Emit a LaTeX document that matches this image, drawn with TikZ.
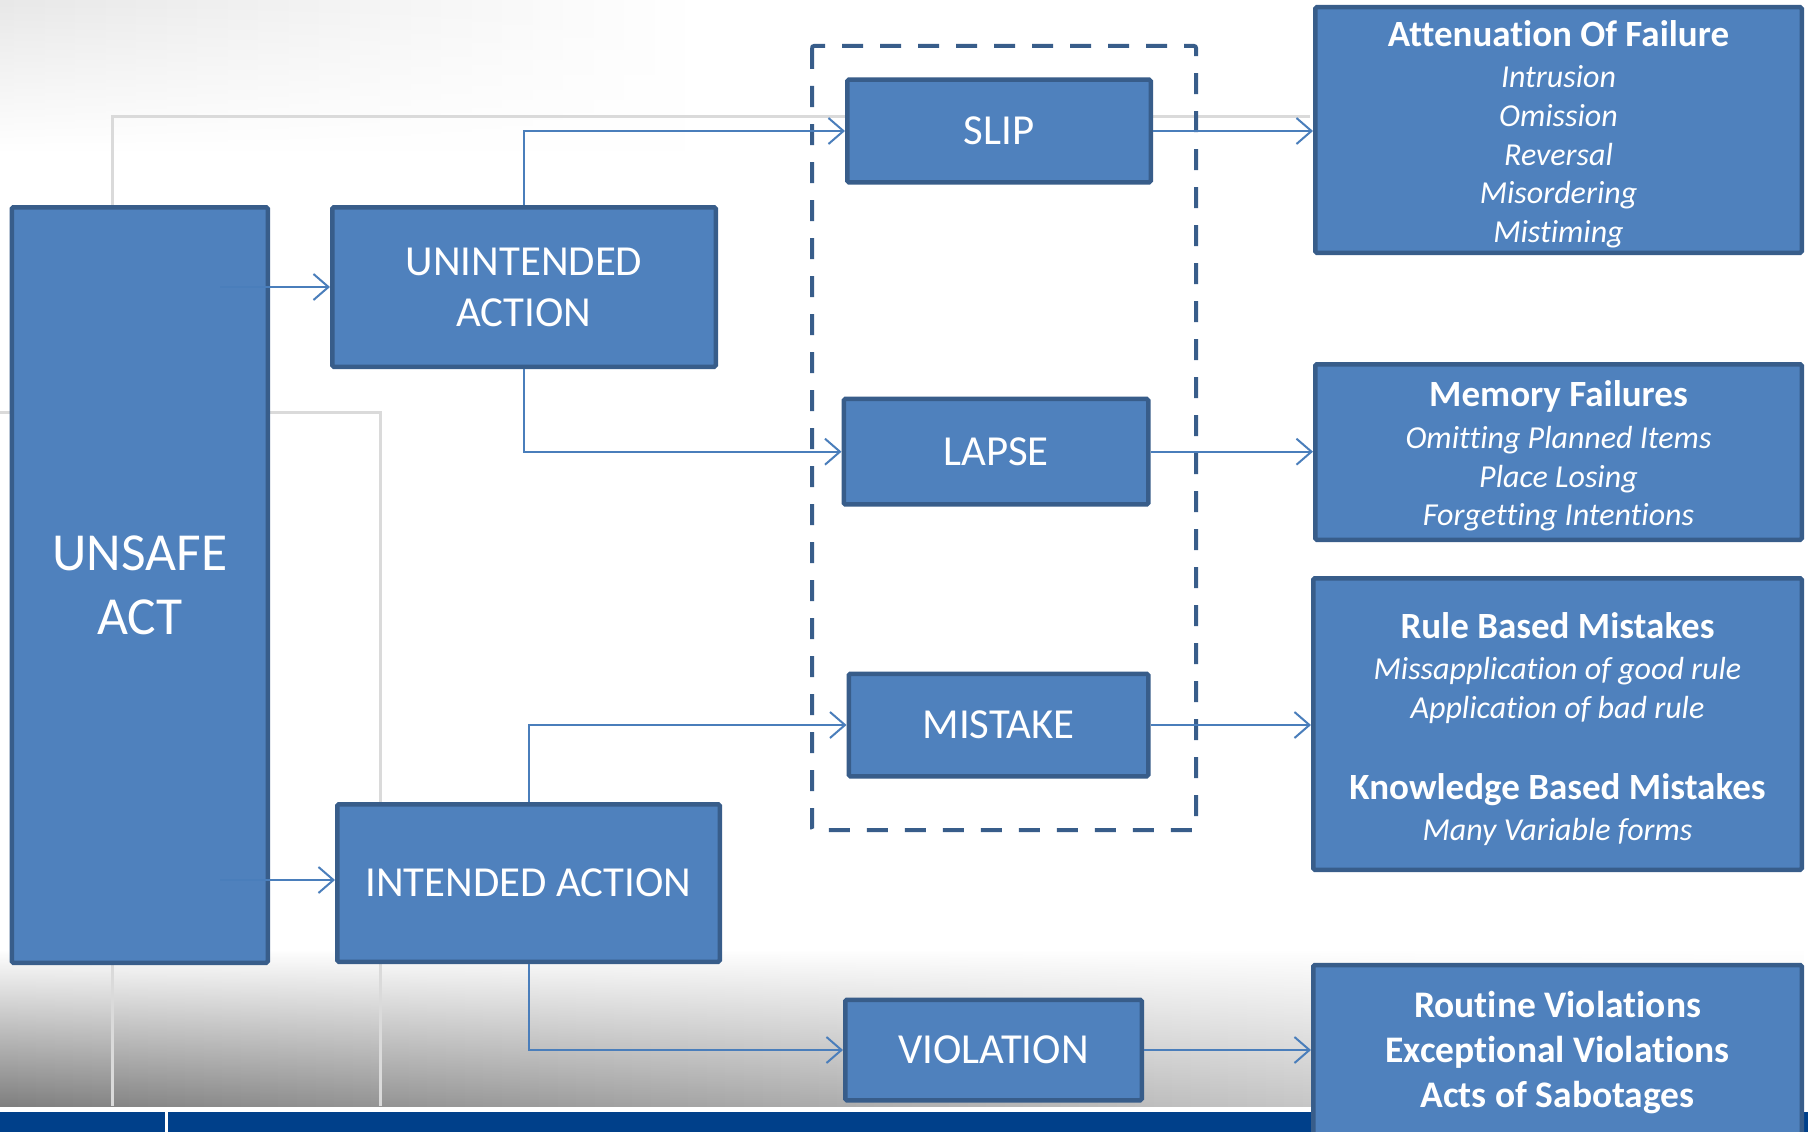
\documentclass[tikz,border=0pt]{standalone}
\usepackage{fontspec}
\setmainfont{Carlito}[Ligatures=NoCommon]
\usetikzlibrary{positioning, arrows.meta, calc, fadings}

\definecolor{boxfill}{HTML}{4F81BD}
\definecolor{boxline}{HTML}{385D8A}
\definecolor{linkblue}{HTML}{4A7EBB}
\definecolor{tmplgray}{HTML}{DADADA}
\definecolor{barblue}{HTML}{00408A}

\newcommand{\hd}[1]{{\fontsize{37}{41.5}\selectfont\upshape\bfseries #1}}

\begin{document}
\begin{tikzpicture}[
  x=1pt, y=-1pt,
  act/.style={draw=boxline, fill=boxfill, line width=4.5pt, text=white, align=center, inner sep=0, rounded corners=1.5pt},
  big/.style={font=\fontsize{53.5}{64}\selectfont},
  mid/.style={font=\fontsize{42.8}{51}\selectfont},
  info/.style={act, font=\fontsize{32}{38.6}\selectfont\itshape},
  link/.style={draw=linkblue, line width=2pt, -{Straight Barb[length=15pt,width=26pt]}},
  frame/.style={draw=boxline, line width=4pt, dash pattern=on 21pt off 17pt, rounded corners=2pt},
  tmpl/.style={draw=tmplgray, line width=3pt},
  ]

  \useasboundingbox (0,0) rectangle (1808,1132);
  \fill[white] (0,0) rectangle (1808,1132);

  % slide template behind the chart
  \shade[left color=black!9, right color=white, path fading=south] (0,0) rectangle (700,150);
  \shade[left color=black!50, right color=black!12, path fading=north] (0,950) rectangle (1808,1106);
  \draw[tmpl] (112,205) |- (1310,116);
  \draw[tmpl] (0,412) -| (380,1106);
  \draw[tmpl] (112,965) -- (112,1106);
  \fill[barblue] (0,1112) rectangle (1808,1132);
  \draw[white, line width=3pt] (166,1112) -- (166,1132);

  % dashed group round the error types
  \draw[frame] (812,46) rectangle (1196,830);

  % acts
  \node[act, big, minimum width=256pt, minimum height=755.5pt] (unsafe) at (139.75,585) {UNSAFE\\ACT};
  \node[act, mid, minimum width=383.5pt, minimum height=159.5pt] (unintended) at (524,287) {UNINTENDED\\ACTION};
  \node[act, mid, minimum width=382.5pt, minimum height=157.5pt] (intended) at (528.5,883) {INTENDED ACTION};

  % error types
  \node[act, mid, minimum width=303.5pt, minimum height=102.5pt] (slip) at (999,131) {SLIP};
  \node[act, mid, minimum width=304.5pt, minimum height=105.5pt] (lapse) at (996,451.7) {LAPSE};
  \node[act, mid, minimum width=299.5pt, minimum height=102.5pt] (mistake) at (998.5,725) {MISTAKE};
  \node[act, mid, minimum width=296.5pt, minimum height=100.5pt] (violation) at (993.5,1050) {VIOLATION};

  % descriptions
  \node[info, minimum width=486.5pt, minimum height=245.5pt] (attenuation) at (1558.5,130)
    {\rule{0pt}{34pt}\hd{Attenuation Of Failure}\\[3pt]Intrusion\\Omission\\Reversal\\Misordering\\Mistiming};
  \node[info, minimum width=486.5pt, minimum height=175.5pt] (memory) at (1558.5,452)
    {\rule{0pt}{34pt}\hd{Memory Failures}\\[3pt]Omitting Planned Items\\Place Losing\\Forgetting Intentions};
  \node[info, minimum width=488.5pt, minimum height=291.5pt] (rules) at (1557.5,724)
    {\rule{0pt}{36pt}\hd{Rule Based Mistakes}\\[3pt]Missapplication of good rule\\Application of bad rule\\[42pt]
     \hd{Knowledge Based Mistakes}\\[3pt]Many Variable forms};
  \node[act, font=\fontsize{37.5}{45}\selectfont\bfseries, minimum width=488.5pt, minimum height=175pt] (routine) at (1557.5,1052.5)
    {Routine Violations\\Exceptional Violations\\Acts of Sabotages};

  % connectors
  \coordinate (u1) at (220,287);
  \coordinate (u2) at (220,880);
  \draw[link] (u1) -- (unintended.west);
  \draw[link] (u2) -- (u2 -| intended.west);
  \draw[link] (unintended.north) |- (slip.west);
  \draw[link] (unintended.south) |- (lapse.west);
  \draw[link] (intended.north) |- (mistake.west);
  \draw[link] (intended.south) |- (violation.west);
  \draw[link] (slip.east) -- (slip.east -| attenuation.west);
  \draw[link] (lapse.east) -- (lapse.east -| memory.west);
  \draw[link] (mistake.east) -- (mistake.east -| rules.west);
  \draw[link] (violation.east) -- (violation.east -| routine.west);

\end{tikzpicture}
\end{document}
